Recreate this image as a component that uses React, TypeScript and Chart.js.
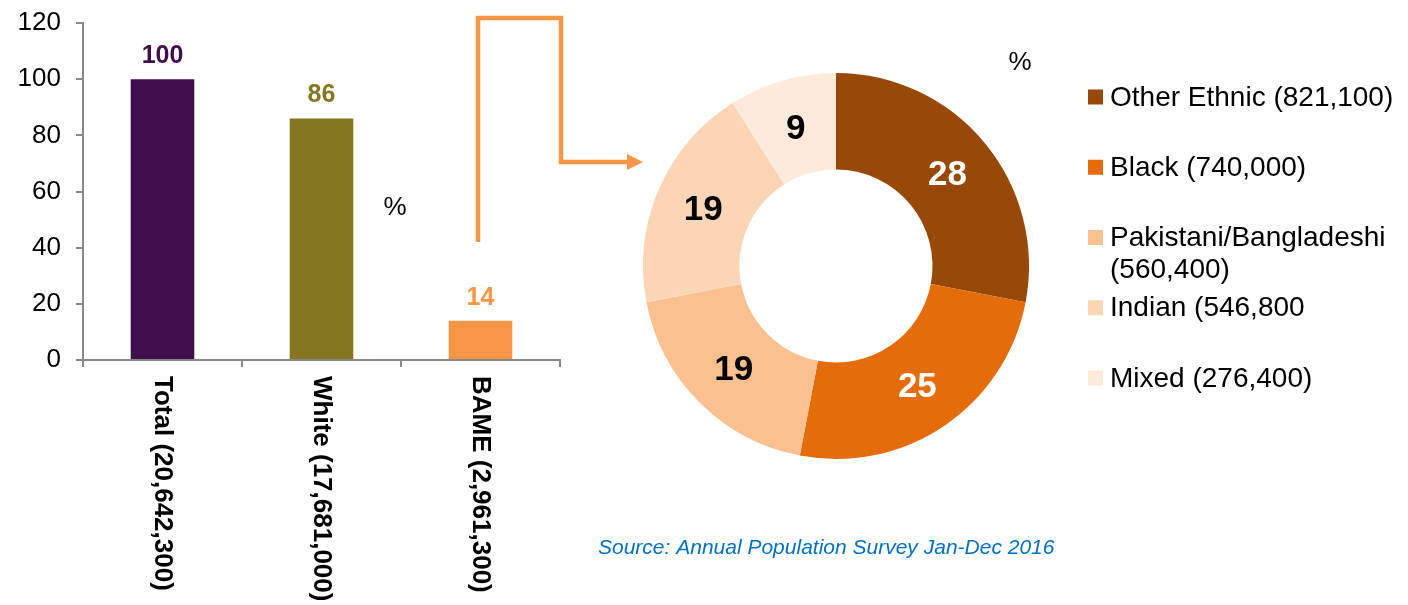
import React, { useEffect, useRef } from "react";
import { Chart, registerables } from "chart.js";

Chart.register(...registerables);

// ---- data ----
const barCategories = ["Total (20,642,300)", "White (17,681,000)", "BAME (2,961,300)"];
const barValues = [100, 86, 14];
const barColors = ["#3F0F4B", "#857720", "#F79646"];
const yMin = 0;
const yMax = 120;
const yStep = 20;

const ethnicLabels = [
  "Other Ethnic (821,100)",
  "Black (740,000)",
  "Pakistani/Bangladeshi (560,400)",
  "Indian (546,800",
  "Mixed (276,400)",
];
const ethnicShares = [28, 25, 19, 19, 9];
const ethnicColors = ["#984807", "#E46C0A", "#FAC090", "#FBD5B5", "#FDEADA"];
const shareLabelColors = ["#FFFFFF", "#FFFFFF", "#000000", "#000000", "#000000"];
const unitLabel = "%";
const sourceText = "Source: Annual Population Survey Jan-Dec 2016";

const FONT = "'Liberation Sans', Arial, Helvetica, sans-serif";

function wrapText(ctx: CanvasRenderingContext2D, text: string, maxWidth: number): string[] {
  const words = text.split(" ");
  const lines: string[] = [];
  let cur = "";
  for (const w of words) {
    const test = cur ? cur + " " + w : w;
    if (ctx.measureText(test).width > maxWidth && cur) {
      lines.push(cur);
      cur = w;
    } else {
      cur = test;
    }
  }
  if (cur) lines.push(cur);
  return lines;
}

export default function App() {
  const barRef = useRef<HTMLCanvasElement | null>(null);
  const pieRef = useRef<HTMLCanvasElement | null>(null);

  useEffect(() => {
    if (!barRef.current || !pieRef.current) return;

    const barPlugin = {
      id: "barExtras",
      afterDatasetsDraw(chart: any) {
        const ctx = chart.ctx as CanvasRenderingContext2D;
        const meta = chart.getDatasetMeta(0);
        ctx.save();
        ctx.font = `bold 25px ${FONT}`;
        ctx.textAlign = "center";
        ctx.textBaseline = "alphabetic";
        meta.data.forEach((bar: any, i: number) => {
          ctx.fillStyle = barColors[i];
          ctx.fillText(String(barValues[i]), bar.x, bar.y - 16);
        });
        ctx.restore();
      },
      afterDraw(chart: any) {
        const ctx = chart.ctx as CanvasRenderingContext2D;
        const xs = chart.scales.x;
        ctx.save();
        ctx.font = `bold 26px ${FONT}`;
        ctx.fillStyle = "#000";
        ctx.textAlign = "left";
        ctx.textBaseline = "middle";
        barCategories.forEach((lab, i) => {
          const x = xs.getPixelForValue(i);
          ctx.save();
          ctx.translate(x, xs.top + 16);
          ctx.rotate(Math.PI / 2);
          ctx.fillText(lab, 0, 0);
          ctx.restore();
        });
        ctx.font = `26px ${FONT}`;
        ctx.textAlign = "center";
        ctx.fillText(unitLabel, 395, 208);
        ctx.restore();
      },
    };

    const bar = new Chart(barRef.current, {
      type: "bar",
      data: {
        labels: barCategories,
        datasets: [
          {
            data: barValues,
            backgroundColor: barColors,
            categoryPercentage: 1,
            barPercentage: 0.4,
            borderWidth: 0,
          },
        ],
      },
      options: {
        animation: false,
        responsive: false,
        events: [],
        layout: { padding: { top: 23, right: 20, left: 0, bottom: 0 } },
        plugins: { legend: { display: false }, tooltip: { enabled: false } },
        scales: {
          x: {
            grid: {
              display: true,
              drawOnChartArea: false,
              drawTicks: true,
              tickLength: 7,
              color: "#888888",
              lineWidth: 2,
              offset: true,
            },
            border: { color: "#888888", width: 2 },
            ticks: { display: false },
            afterFit: (s: any) => {
              s.height = 245;
              s.paddingLeft = 0;
              s.paddingRight = 0;
            },
          },
          y: {
            min: yMin,
            max: yMax,
            ticks: {
              stepSize: yStep,
              color: "#000000",
              padding: 15,
              font: { family: FONT, size: 26 },
            },
            grid: {
              drawOnChartArea: false,
              drawTicks: true,
              tickLength: 7,
              color: "#888888",
              lineWidth: 2,
            },
            border: { color: "#888888", width: 2 },
            afterFit: (s: any) => {
              s.width = 83;
              s.paddingTop = 0;
              s.paddingBottom = 0;
            },
          },
        },
      },
      plugins: [barPlugin],
    } as any);

    const pieOffsetX = 580;
    const piePlugin = {
      id: "pieExtras",
      afterDatasetsDraw(chart: any) {
        const ctx = chart.ctx as CanvasRenderingContext2D;
        const meta = chart.getDatasetMeta(0);
        ctx.save();
        ctx.font = `bold 35px ${FONT}`;
        ctx.textAlign = "center";
        ctx.textBaseline = "middle";
        meta.data.forEach((arc: any, i: number) => {
          const p = arc.getCenterPoint();
          ctx.fillStyle = shareLabelColors[i];
          ctx.fillText(String(ethnicShares[i]), p.x, p.y + 2);
        });
        ctx.restore();
      },
      afterDraw(chart: any) {
        const ctx = chart.ctx as CanvasRenderingContext2D;
        ctx.save();
        // legend
        ctx.font = `28px ${FONT}`;
        ctx.textAlign = "left";
        ctx.textBaseline = "middle";
        ethnicLabels.forEach((lab, i) => {
          const cy = 97 + 70.25 * i;
          ctx.fillStyle = ethnicColors[i];
          ctx.fillRect(1088 - pieOffsetX, cy - 7.5, 15, 15);
          ctx.fillStyle = "#000000";
          const lines = wrapText(ctx, lab, 295);
          lines.forEach((ln, j) => {
            ctx.fillText(ln, 1110 - pieOffsetX, cy + 1 + j * 32);
          });
        });
        // unit
        ctx.font = `26px ${FONT}`;
        ctx.textAlign = "center";
        ctx.fillStyle = "#000000";
        ctx.fillText(unitLabel, 1020 - pieOffsetX, 63);
        // source
        ctx.font = `italic 21px ${FONT}`;
        ctx.textAlign = "left";
        ctx.fillStyle = "#0070C0";
        ctx.fillText(sourceText, 598 - pieOffsetX, 548);
        ctx.restore();
      },
    };

    const pie = new Chart(pieRef.current, {
      type: "doughnut",
      data: {
        labels: ethnicLabels,
        datasets: [
          {
            data: ethnicShares,
            backgroundColor: ethnicColors,
            borderWidth: 0,
            hoverBorderWidth: 0,
            hoverOffset: 0,
          },
        ],
      },
      options: {
        animation: false,
        responsive: false,
        events: [],
        cutout: "50%",
        layout: { padding: { left: 63, top: 73, right: 379, bottom: 146 } },
        plugins: { legend: { display: false }, tooltip: { enabled: false } },
      },
      plugins: [piePlugin],
    } as any);

    return () => {
      bar.destroy();
      pie.destroy();
    };
  }, []);

  return (
    <div
      style={{
        position: "absolute",
        left: 0,
        top: 0,
        width: 1408,
        height: 605,
        background: "#ffffff",
        overflow: "hidden",
      }}
    >
      <canvas
        ref={barRef}
        width={580}
        height={605}
        style={{ position: "absolute", left: 0, top: 0, width: 580, height: 605 }}
      />
      <canvas
        ref={pieRef}
        width={828}
        height={605}
        style={{ position: "absolute", left: 580, top: 0, width: 828, height: 605 }}
      />
      <svg
        width={1408}
        height={605}
        style={{ position: "absolute", left: 0, top: 0, pointerEvents: "none" }}
      >
        <polyline
          points="478,242 478,18 561,18 561,162 629,162"
          fill="none"
          stroke="#F79646"
          strokeWidth={4.5}
          strokeLinejoin="miter"
        />
        <polygon points="627,154 643,162 627,170" fill="#F79646" />
      </svg>
    </div>
  );
}
